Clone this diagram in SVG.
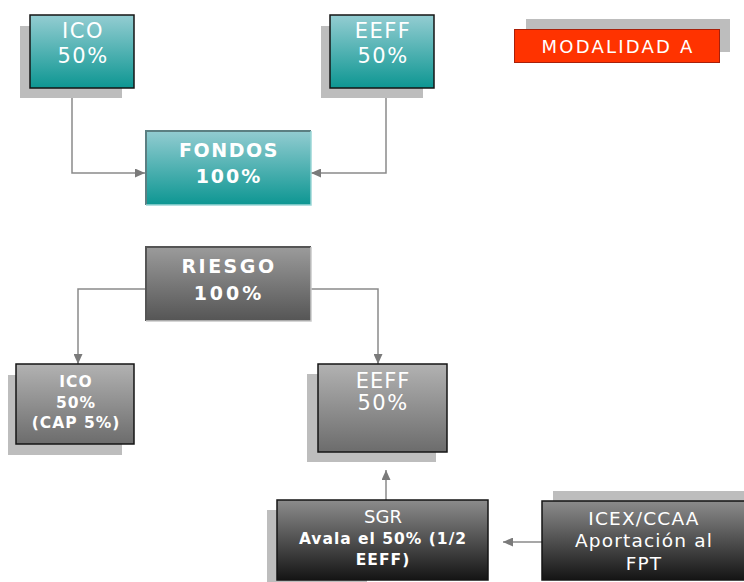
<svg xmlns="http://www.w3.org/2000/svg" width="744" height="582" viewBox="0 0 744 582">
<defs>
<linearGradient id="teal" x1="0" y1="0" x2="0" y2="1">
<stop offset="0" stop-color="#94cdd2"/>
<stop offset="1" stop-color="#0d9692"/>
</linearGradient>
<linearGradient id="grayMid" x1="0" y1="0" x2="0" y2="1">
<stop offset="0" stop-color="#9c9c9c"/>
<stop offset="1" stop-color="#555555"/>
</linearGradient>
<linearGradient id="grayLight" x1="0" y1="0" x2="0" y2="1">
<stop offset="0" stop-color="#b2b2b2"/>
<stop offset="1" stop-color="#6c6c6c"/>
</linearGradient>
<linearGradient id="grayDark" x1="0" y1="0" x2="0" y2="1">
<stop offset="0" stop-color="#8c8c8c"/>
<stop offset="1" stop-color="#141414"/>
</linearGradient>
<marker id="arr" markerWidth="11" markerHeight="9" refX="10" refY="4.5" orient="auto" markerUnits="userSpaceOnUse">
<path d="M0,0 L10,4.5 L0,9 z" fill="#7a7a7a"/>
</marker>
</defs>
<style>
.shadow{fill:#bdbdbd}
.box{stroke:#151515;stroke-width:1.5}
.t{font-family:"DejaVu Sans","Verdana",sans-serif;fill:#ffffff;text-anchor:middle}
.big{font-size:21px;letter-spacing:1.5px}
.bold{font-weight:bold;font-size:19px;letter-spacing:2px}
.small{font-weight:bold;font-size:15.5px;letter-spacing:1px}
.mid{font-size:18.5px;letter-spacing:1.2px}
.conn{fill:none;stroke:#8a8a8a;stroke-width:1.5;marker-end:url(#arr)}
</style>
<rect width="744" height="582" fill="#ffffff"/>

<g id="connectors">
<path class="conn" d="M72 88 V173 H145"/>
<path class="conn" d="M386 88 V173 H311"/>
<path class="conn" d="M145 289 H78 V364"/>
<path class="conn" d="M311 289 H378 V364"/>
<path class="conn" d="M386 500 V470"/>
<path class="conn" d="M542 542 H503"/>
</g>

<g id="ico-top">
<rect class="shadow" x="20" y="26" width="102" height="72"/>
<rect class="box" x="30" y="15" width="104" height="73" fill="url(#teal)"/>
<text class="t big" x="83" y="38">ICO</text>
<text class="t big" x="83" y="63">50%</text>
</g>

<g id="eeff-top">
<rect class="shadow" x="321" y="26" width="102" height="72"/>
<rect class="box" x="330" y="15" width="104" height="73" fill="url(#teal)"/>
<text class="t big" x="383" y="38">EEFF</text>
<text class="t big" x="383" y="63">50%</text>
</g>

<g id="modalidad">
<rect class="shadow" x="526" y="19" width="204" height="33"/>
<rect x="514.5" y="29.5" width="205" height="33" fill="#ff3300" stroke="#a8200a" stroke-width="1"/>
<text class="t" x="618" y="53" style="font-size:18px;letter-spacing:2.2px">MODALIDAD A</text>
</g>

<g id="fondos">
<rect x="145" y="130" width="166" height="75" fill="url(#teal)"/>
<path d="M146 205 V131 H311" fill="none" stroke="#5b7f82" stroke-width="2"/>
<path d="M146 205 H311 V131" fill="none" stroke="#9ad6d6" stroke-width="1.5"/>
<text class="t bold" x="229" y="157" style="letter-spacing:1.6px">FONDOS</text>
<text class="t bold" x="229" y="183">100%</text>
</g>

<g id="riesgo">
<rect x="145" y="246" width="166" height="75" fill="url(#grayMid)"/>
<path d="M146 321 V247 H311" fill="none" stroke="#555555" stroke-width="2"/>
<path d="M146 321 H311 V247" fill="none" stroke="#c8c8c8" stroke-width="1.5"/>
<text class="t bold" x="229" y="273" style="letter-spacing:2.5px">RIESGO</text>
<text class="t bold" x="229" y="300" style="letter-spacing:3px">100%</text>
</g>

<g id="ico-bottom">
<rect class="shadow" x="8" y="375" width="114" height="80"/>
<rect class="box" x="16" y="364" width="118" height="80" fill="url(#grayLight)"/>
<text class="t small" x="76" y="387">ICO</text>
<text class="t small" x="76" y="408">50%</text>
<text class="t small" x="76" y="428">(CAP 5%)</text>
</g>

<g id="eeff-bottom">
<rect class="shadow" x="307" y="374" width="129" height="88"/>
<rect class="box" x="318" y="364" width="129" height="88" fill="url(#grayLight)"/>
<text class="t big" x="383" y="388" style="letter-spacing:1px">EEFF</text>
<text class="t big" x="383" y="410">50%</text>
</g>

<g id="sgr">
<rect class="shadow" x="267" y="510" width="100" height="72"/>
<rect class="box" x="277" y="500" width="211" height="80" fill="url(#grayDark)"/>
<text class="t" x="383" y="523" style="font-size:18px">SGR</text>
<text class="t small" x="383" y="544">Avala el 50% (1/2</text>
<text class="t small" x="383" y="565">EEFF)</text>
</g>

<g id="icex">
<rect class="shadow" x="553" y="491" width="191" height="20"/>
<rect class="box" x="542" y="501" width="203" height="79" fill="url(#grayDark)"/>
<text class="t mid" x="644" y="525">ICEX/CCAA</text>
<text class="t mid" x="644" y="547">Aportación al</text>
<text class="t mid" x="644" y="570">FPT</text>
</g>
</svg>
